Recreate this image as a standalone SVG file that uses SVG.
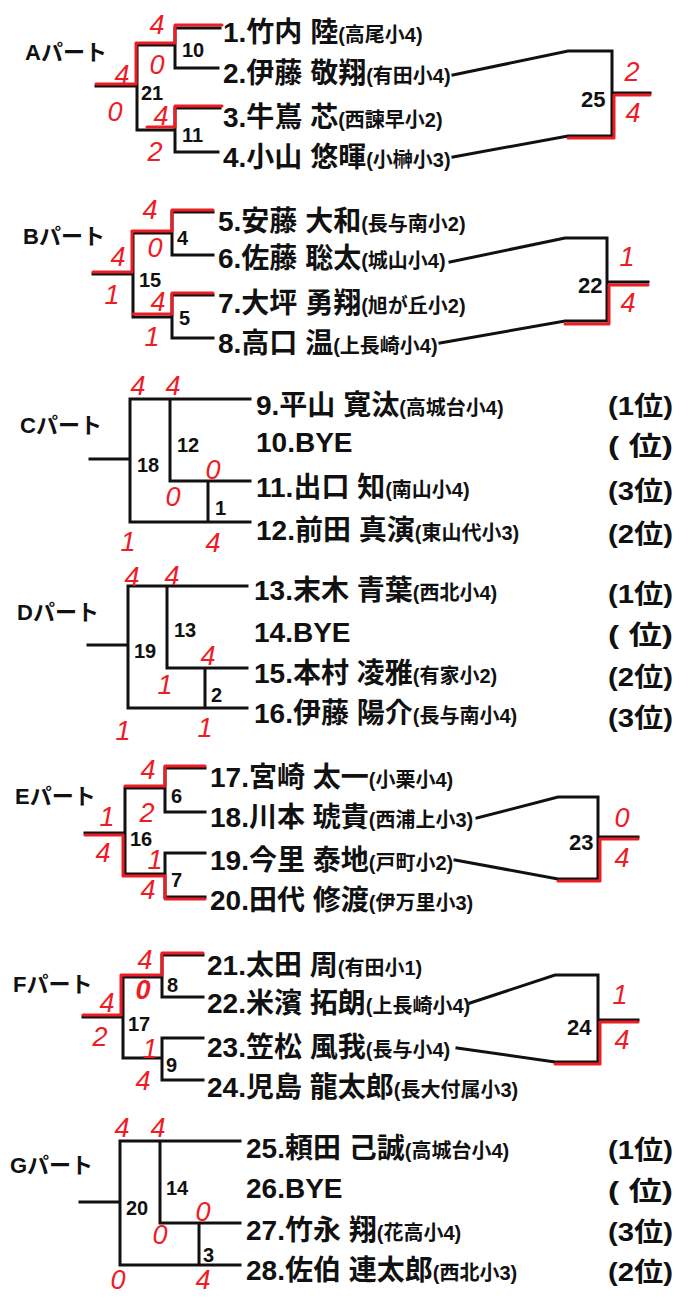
<svg xmlns="http://www.w3.org/2000/svg" width="676" height="1297" viewBox="0 0 676 1297">
<style>
.ln{stroke:#111;stroke-width:3;fill:none;stroke-linecap:square;stroke-linejoin:miter}
.rl{stroke:#ee1c25;stroke-width:3;fill:none;stroke-linecap:round;stroke-linejoin:round}
text{font-family:"Liberation Sans","Noto Sans CJK JP",sans-serif;font-weight:bold;fill:#111}
.nm{font-size:28px}
.sc{font-size:20px}
.pt{font-size:22px}
.mn{font-size:20px}
.mr{font-size:22px}
.rk{font-size:26px}
.sr{font-family:"Liberation Sans",sans-serif;font-weight:normal;font-style:italic;font-size:27px;fill:#ee1c25;text-anchor:middle}
</style>
<rect width="676" height="1297" fill="#fff"/>
<g id="connectors">
<path class="ln" d="M96,86H137M137,45V130M137,45H175M137,130H175M175,28V68M175,28H220M175,68H218M175,108V152M175,108H220M175,152H218"/>
<path class="ln" d="M453,75L568,51H612V136H568L453,157M612,93H650"/>
<path class="ln" d="M93,274H133M133,233V317M133,233H172M133,317H172M172,212V255M172,212H213M172,255H213M172,295V338M172,295H213M172,338H213"/>
<path class="ln" d="M450,262L565,238H607V321H565L440,343M607,282H648"/>
<path class="ln" d="M90,459H130M130,399V522M130,399H250M170,399V481M170,481H250M208,481V522M130,522H250"/>
<path class="ln" d="M88,645H128M128,586V708M128,586H247M167,586V668M167,668H247M205,668V708M128,708H247"/>
<path class="ln" d="M85,833H125M125,788V874M125,788H165M125,874H165M165,768V812M165,768H205M165,812H205M165,853V897M165,853H205M165,897H205"/>
<path class="ln" d="M477,818L558,797H598V879H558L455,860M598,837H638"/>
<path class="ln" d="M83,1017H123M123,977V1058M123,977H162M123,1058H162M162,955V997M162,955H203M162,997H203M162,1038V1080M162,1038H203M162,1080H203"/>
<path class="ln" d="M470,1003L555,975H598V1062H555L457,1048M598,1020H638"/>
<path class="ln" d="M80,1202H120M120,1141V1265M120,1141H240M160,1141V1223M160,1223H240M199,1223V1265M120,1265H240"/>
</g>
<g id="winner-paths">
<path class="rl" d="M222,25H175V43H136V84H96"/>
<path class="rl" d="M222,106H175V127H147"/>
<path class="rl" d="M568,138H614V95H650"/>
<path class="rl" d="M213,210H172V231H132V272H93"/>
<path class="rl" d="M213,293H172V314H133"/>
<path class="rl" d="M565,324H609V285H648"/>
<path class="rl" d="M205,766H165V786H125"/>
<path class="rl" d="M205,899H165V876H123V835H85"/>
<path class="rl" d="M558,881H600V839H638"/>
<path class="rl" d="M203,953H162V975H121V1015H83"/>
<path class="rl" d="M555,1064H600V1022H638"/>
</g>
<g id="parts">
<text class="pt" x="25" y="60">Aパート</text>
<text class="pt" x="23" y="244">Bパート</text>
<text class="pt" x="20" y="433">Cパート</text>
<text class="pt" x="17" y="620">Dパート</text>
<text class="pt" x="15" y="804">Eパート</text>
<text class="pt" x="13" y="992">Fパート</text>
<text class="pt" x="10" y="1173">Gパート</text>
</g>
<g id="matches">
<text id="m10" class="mn" x="182" y="57">10</text>
<text id="m21" class="mn" x="141" y="100">21</text>
<text id="m11" class="mn" x="182" y="142">11</text>
<text id="m25" class="mr" x="581" y="107">25</text>
<text id="m4" class="mn" x="177" y="245">4</text>
<text id="m15" class="mn" x="139" y="287">15</text>
<text id="m5" class="mn" x="179" y="325">5</text>
<text id="m22" class="mr" x="578" y="293">22</text>
<text id="m12" class="mn" x="177" y="452">12</text>
<text id="m18" class="mn" x="137" y="472">18</text>
<text id="m1" class="mn" x="215" y="515">1</text>
<text id="m13" class="mn" x="174" y="637">13</text>
<text id="m19" class="mn" x="134" y="658">19</text>
<text id="m2" class="mn" x="211" y="702">2</text>
<text id="m6" class="mn" x="171" y="803">6</text>
<text id="m16" class="mn" x="130" y="846">16</text>
<text id="m7" class="mn" x="171" y="887">7</text>
<text id="m23" class="mr" x="569" y="850">23</text>
<text id="m8" class="mn" x="167" y="992">8</text>
<text id="m17" class="mn" x="128" y="1031">17</text>
<text id="m9" class="mn" x="166" y="1072">9</text>
<text id="m24" class="mr" x="567" y="1035">24</text>
<text id="m14" class="mn" x="166" y="1195">14</text>
<text id="m20" class="mn" x="126" y="1215">20</text>
<text id="m3" class="mn" x="203" y="1262">3</text>
</g>
<g id="players">
<g id="p1"><text class="nm" x="223" y="42">1.竹内 陸<tspan class="sc">(高尾小4)</tspan></text></g>
<g id="p2"><text class="nm" x="223" y="83">2.伊藤 敬翔<tspan class="sc">(有田小4)</tspan></text></g>
<g id="p3"><text class="nm" x="223" y="127">3.牛嶌 芯<tspan class="sc">(西諫早小2)</tspan></text></g>
<g id="p4"><text class="nm" x="223" y="167">4.小山 悠暉<tspan class="sc">(小榊小3)</tspan></text></g>
<g id="p5"><text class="nm" x="218" y="231">5.安藤 大和<tspan class="sc">(長与南小2)</tspan></text></g>
<g id="p6"><text class="nm" x="218" y="268">6.佐藤 聡太<tspan class="sc">(城山小4)</tspan></text></g>
<g id="p7"><text class="nm" x="218" y="313">7.大坪 勇翔<tspan class="sc">(旭が丘小2)</tspan></text></g>
<g id="p8"><text class="nm" x="218" y="353">8.高口 温<tspan class="sc">(上長崎小4)</tspan></text></g>
<g id="p9"><text class="nm" x="256" y="415">9.平山 寛汰<tspan class="sc">(高城台小4)</tspan></text></g>
<g id="p10"><text class="nm" x="256" y="452">10.BYE</text></g>
<g id="p11"><text class="nm" x="256" y="497">11.出口 知<tspan class="sc">(南山小4)</tspan></text></g>
<g id="p12"><text class="nm" x="256" y="540">12.前田 真演<tspan class="sc">(東山代小3)</tspan></text></g>
<g id="p13"><text class="nm" x="254" y="600">13.末木 青葉<tspan class="sc">(西北小4)</tspan></text></g>
<g id="p14"><text class="nm" x="254" y="642">14.BYE</text></g>
<g id="p15"><text class="nm" x="254" y="683">15.本村 凌雅<tspan class="sc">(有家小2)</tspan></text></g>
<g id="p16"><text class="nm" x="254" y="723">16.伊藤 陽介<tspan class="sc">(長与南小4)</tspan></text></g>
<g id="p17"><text class="nm" x="210" y="787">17.宮崎 太一<tspan class="sc">(小栗小4)</tspan></text></g>
<g id="p18"><text class="nm" x="210" y="827">18.川本 琥貴<tspan class="sc">(西浦上小3)</tspan></text></g>
<g id="p19"><text class="nm" x="210" y="870">19.今里 泰地<tspan class="sc">(戸町小2)</tspan></text></g>
<g id="p20"><text class="nm" x="210" y="910">20.田代 修渡<tspan class="sc">(伊万里小3)</tspan></text></g>
<g id="p21"><text class="nm" x="207" y="975">21.太田 周<tspan class="sc">(有田小1)</tspan></text></g>
<g id="p22"><text class="nm" x="207" y="1013">22.米濱 拓朗<tspan class="sc">(上長崎小4)</tspan></text></g>
<g id="p23"><text class="nm" x="207" y="1057">23.笠松 風我<tspan class="sc">(長与小4)</tspan></text></g>
<g id="p24"><text class="nm" x="207" y="1097">24.児島 龍太郎<tspan class="sc">(長大付属小3)</tspan></text></g>
<g id="p25"><text class="nm" x="246" y="1158">25.頼田 己誠<tspan class="sc">(高城台小4)</tspan></text></g>
<g id="p26"><text class="nm" x="246" y="1198">26.BYE</text></g>
<g id="p27"><text class="nm" x="246" y="1240">27.竹永 翔<tspan class="sc">(花高小4)</tspan></text></g>
<g id="p28"><text class="nm" x="246" y="1280">28.佐伯 連太郎<tspan class="sc">(西北小3)</tspan></text></g>
</g>
<g id="ranks">
<text class="rk" x="608" y="415" textLength="65" lengthAdjust="spacingAndGlyphs">(1位)</text>
<text class="rk" x="608" y="455" textLength="65" lengthAdjust="spacingAndGlyphs">( 位)</text>
<text class="rk" x="608" y="500" textLength="65" lengthAdjust="spacingAndGlyphs">(3位)</text>
<text class="rk" x="608" y="543" textLength="65" lengthAdjust="spacingAndGlyphs">(2位)</text>
<text class="rk" x="608" y="603" textLength="65" lengthAdjust="spacingAndGlyphs">(1位)</text>
<text class="rk" x="608" y="644" textLength="65" lengthAdjust="spacingAndGlyphs">( 位)</text>
<text class="rk" x="608" y="686" textLength="65" lengthAdjust="spacingAndGlyphs">(2位)</text>
<text class="rk" x="608" y="727" textLength="65" lengthAdjust="spacingAndGlyphs">(3位)</text>
<text class="rk" x="608" y="1159" textLength="65" lengthAdjust="spacingAndGlyphs">(1位)</text>
<text class="rk" x="608" y="1200" textLength="65" lengthAdjust="spacingAndGlyphs">( 位)</text>
<text class="rk" x="608" y="1241" textLength="65" lengthAdjust="spacingAndGlyphs">(3位)</text>
<text class="rk" x="608" y="1281" textLength="65" lengthAdjust="spacingAndGlyphs">(2位)</text>
</g>
<g id="scores">
<text class="sr" x="157" y="34">4</text>
<text class="sr" x="157" y="74">0</text>
<text class="sr" x="122" y="84">4</text>
<text class="sr" x="115" y="121">0</text>
<text class="sr" x="161" y="125">4</text>
<text class="sr" x="155" y="161">2</text>
<text class="sr" x="632" y="81">2</text>
<text class="sr" x="633" y="122">4</text>
<text class="sr" x="150" y="219">4</text>
<text class="sr" x="155" y="257">0</text>
<text class="sr" x="118" y="266">4</text>
<text class="sr" x="112" y="304">1</text>
<text class="sr" x="158" y="311">4</text>
<text class="sr" x="152" y="346">1</text>
<text class="sr" x="627" y="266">1</text>
<text class="sr" x="628" y="312">4</text>
<text class="sr" x="138" y="395">4</text>
<text class="sr" x="173" y="395">4</text>
<text class="sr" x="213" y="479">0</text>
<text class="sr" x="173" y="506">0</text>
<text class="sr" x="128" y="551">1</text>
<text class="sr" x="213" y="552">4</text>
<text class="sr" x="132" y="586">4</text>
<text class="sr" x="172" y="585">4</text>
<text class="sr" x="208" y="665">4</text>
<text class="sr" x="165" y="694">1</text>
<text class="sr" x="123" y="740">1</text>
<text class="sr" x="205" y="737">1</text>
<text class="sr" x="148" y="779">4</text>
<text class="sr" x="147" y="822">2</text>
<text class="sr" x="107" y="826">1</text>
<text class="sr" x="103" y="862">4</text>
<text class="sr" x="155" y="869">1</text>
<text class="sr" x="148" y="899">4</text>
<text class="sr" x="622" y="827">0</text>
<text class="sr" x="622" y="867">4</text>
<text class="sr" x="145" y="969">4</text>
<text class="sr" x="143" y="999" style="font-weight:bold">0</text>
<text class="sr" x="107" y="1012">4</text>
<text class="sr" x="100" y="1046">2</text>
<text class="sr" x="150" y="1058">1</text>
<text class="sr" x="143" y="1090">4</text>
<text class="sr" x="620" y="1004">1</text>
<text class="sr" x="622" y="1049">4</text>
<text class="sr" x="122" y="1137">4</text>
<text class="sr" x="158" y="1137">4</text>
<text class="sr" x="203" y="1221">0</text>
<text class="sr" x="160" y="1244">0</text>
<text class="sr" x="118" y="1289">0</text>
<text class="sr" x="203" y="1289">4</text>
</g>
</svg>
